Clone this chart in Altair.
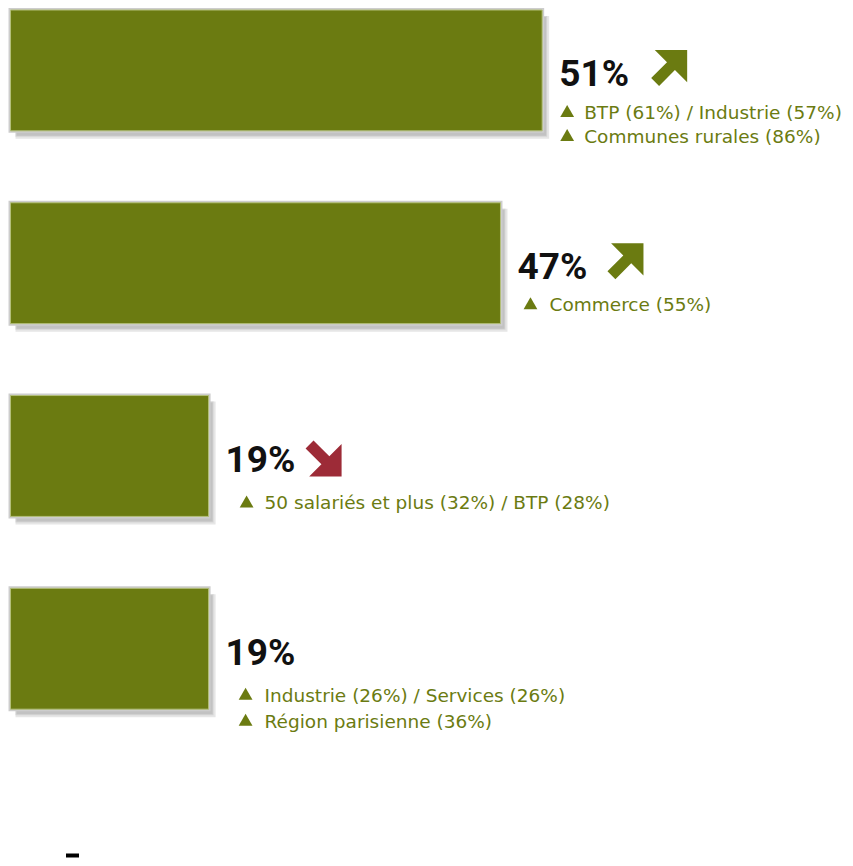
import altair as alt
import pandas as pd

# ---- data ----
values = [51, 47, 19, 19]
value_labels = ["51%", "47%", "19%", "19%"]
trends = ["up", "up", "down", ""]
sub_lines = [
    ["BTP (61%) / Industrie (57%)", "Communes rurales (86%)"],
    ["Commerce (55%)"],
    ["50 salariés et plus (32%) / BTP (28%)"],
    ["Industrie (26%) / Services (26%)", "Région parisienne (36%)"],
]

# ---- styles ----
OLIVE = "#6B7B11"
RED = "#9D2B37"
BAR_HALF = 0.3135
arrow_dx = [127, 125, 115, 0]
arrow_dy = [-2.5, -2, 2.5, 0]
tri_dx = [25, 30, 38, 37]
text_dx = [42, 49, 56, 56]
line_dy = [48.5, 48, 53.5, 53]
line_gap = [24, 24, 26, 26]

ARROW_UP = "M -0.8 -1 L 1 -1 L 1 0.8 L 0.32 0.12 L -0.56 1 L -1 0.56 L -0.12 -0.32 Z"
ARROW_DOWN = "M -0.8 1 L 1 1 L 1 -0.8 L 0.32 -0.12 L -0.56 -1 L -1 -0.56 L -0.12 0.32 Z"

rows = list(range(len(values)))
bars = pd.DataFrame({"row": rows, "value": values, "label": value_labels, "trend": trends})
bars["start"] = 0
bars["top"] = bars["row"] - BAR_HALF
bars["bottom"] = bars["row"] + BAR_HALF

subs = pd.DataFrame(
    [{"row": r, "line": k, "text": t, "value": values[r]}
     for r, lines in enumerate(sub_lines) for k, t in enumerate(lines)]
)

xs = alt.Scale(domain=[-0.05, 80.05], nice=False, zero=False)
ys = alt.Scale(domain=[-0.3187, 4.0855], nice=False, zero=False, reverse=True)

base = alt.Chart(bars)
rect_enc = dict(
    x=alt.X("start:Q", scale=xs, axis=None),
    x2="value:Q",
    y=alt.Y("top:Q", scale=ys, axis=None),
    y2="bottom:Q",
)

layers = []
# soft shadow (several offset layers)
for off, col, spread in [(5, "#e6e6e6", 2), (4, "#d4d4d4", 1), (4, "#c2c2c2", 0)]:
    layers.append(
        base.mark_rect(color=col, xOffset=off - spread + 2, x2Offset=off + spread,
                       yOffset=off - spread + 3, y2Offset=off + spread + 1)
        .encode(**rect_enc)
    )
# outer grey border
layers.append(base.mark_rect(fill="white", stroke="#cdcdcd", strokeWidth=4).encode(**rect_enc))
# bar
layers.append(base.mark_rect(fill=OLIVE, stroke="#b3bf7a", strokeWidth=1).encode(**rect_enc))

pt_enc = dict(
    x=alt.X("value:Q", scale=xs, axis=None),
    y=alt.Y("row:Q", scale=ys, axis=None),
)

# percentage labels
layers.append(
    base.mark_text(align="left", baseline="alphabetic", dx=17, dy=16,
                   font="Roboto", fontSize=37, fontWeight="bold", color="#111111")
    .encode(text="label:N", **pt_enc)
)

# trend arrows
for i, tr in enumerate(trends):
    if not tr:
        continue
    layers.append(
        base.transform_filter(alt.datum.row == i)
        .mark_point(shape=ARROW_UP if tr == "up" else ARROW_DOWN, size=1296,
                    filled=True, opacity=1, strokeWidth=0,
                    color=OLIVE if tr == "up" else RED,
                    xOffset=arrow_dx[i], yOffset=arrow_dy[i])
        .encode(**pt_enc)
    )

# sub labels with triangles
sub_base = alt.Chart(subs)
for r, lines in enumerate(sub_lines):
    for k in range(len(lines)):
        dy = line_dy[r] + k * line_gap[r]
        filt = sub_base.transform_filter((alt.datum.row == r) & (alt.datum.line == k))
        layers.append(
            filt.mark_point(shape="triangle-up", size=190, filled=True, opacity=1,
                            strokeWidth=0, color=OLIVE,
                            xOffset=tri_dx[r], yOffset=dy - 8)
            .encode(**pt_enc)
        )
        layers.append(
            filt.mark_text(align="left", baseline="alphabetic", dx=text_dx[r], dy=dy,
                           font="DejaVu Sans", fontSize=18.5, color=OLIVE)
            .encode(text="text:N", **pt_enc)
        )

# small black dash at bottom-left
layers.append(
    alt.Chart(bars).mark_rect(color="black").encode(
        x=alt.value(56), x2=alt.value(69), y=alt.value(844.5), y2=alt.value(848.5)
    ).transform_filter(alt.datum.row == 0)
)

chart = alt.layer(*layers).properties(
    width=837, height=850, padding=0,
    autosize=alt.AutoSizeParams(type="fit", contains="padding"),
    background="white",
).configure_view(stroke=None)

chart.save("out.html", embed_options={"renderer": "svg", "actions": False})
